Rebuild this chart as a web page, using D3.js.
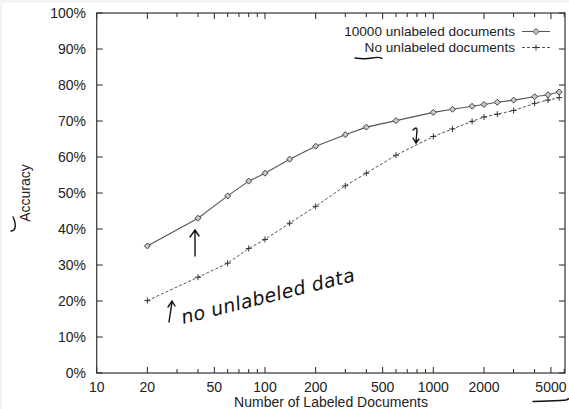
<!DOCTYPE html>
<html><head><meta charset="utf-8">
<script src="https://cdn.jsdelivr.net/npm/d3@7"></script>
<style>body{margin:0;background:#f3f3f3;}svg{display:block;}</style>
</head><body>
<svg id="c" width="569" height="409"></svg>
<script>
const labeledCounts = [20,40,60,80,100,140,200,300,400,600,1000,1300,1700,2000,2400,3000,4000,4800,5600];
const withUnlabeled = [35.3,43.0,49.2,53.3,55.5,59.4,63.0,66.2,68.3,70.1,72.4,73.25,74.1,74.6,75.2,75.8,76.75,77.3,78.05];
const noUnlabeled   = [20.1,26.6,30.5,34.6,37.1,41.6,46.3,52.0,55.5,60.5,65.7,67.8,69.9,71.1,71.9,72.9,74.9,75.8,76.5];
const seriesNames = ["10000 unlabeled documents","No unlabeled documents"];
const xTickLabels = [10,20,50,100,200,500,1000,2000,5000];
const yTickValues = [0,10,20,30,40,50,60,70,80,90,100];

const svg = d3.select("#c");
svg.append("rect").attr("x",2).attr("y",3).attr("width",567).attr("height",406).attr("fill","#fff");

const L=96.7, R=565, T=13, B=373;
const x = d3.scaleLog().domain([10,6060]).range([L,R]);
const y = d3.scaleLinear().domain([0,100]).range([B,T]);
const font = "'Liberation Sans', Arial, sans-serif";
const fs = 14;

// minor ticks
const minor = [];
for (let d=10; d<=1000; d*=10) for (let k=1;k<10;k++){ const v=d*k; if (v>=10 && v<=6060) minor.push(v); }
const g = svg.append("g");
minor.forEach(v=>{
  const major = xTickLabels.includes(v);
  const len = major ? 6 : 4;
  g.append("line").attr("x1",x(v)).attr("x2",x(v)).attr("y1",B).attr("y2",B-len).attr("stroke","#222").attr("stroke-width",1);
  g.append("line").attr("x1",x(v)).attr("x2",x(v)).attr("y1",T).attr("y2",T+len).attr("stroke","#222").attr("stroke-width",1);
});
yTickValues.forEach(v=>{
  g.append("line").attr("x1",L).attr("x2",L+6).attr("y1",y(v)).attr("y2",y(v)).attr("stroke","#222");
  g.append("line").attr("x1",R).attr("x2",R-6).attr("y1",y(v)).attr("y2",y(v)).attr("stroke","#222");
  g.append("text").attr("x",86).attr("y",y(v)).attr("dy","0.35em").attr("text-anchor","end")
   .attr("font-family",font).attr("font-size",fs).attr("fill","#222").text(v+"%");
});
xTickLabels.forEach(v=>{
  g.append("text").attr("x",x(v)).attr("y",391.5).attr("text-anchor","middle")
   .attr("font-family",font).attr("font-size",fs).attr("fill","#222").text(v);
});
g.append("rect").attr("x",L).attr("y",T).attr("width",R-L).attr("height",B-T).attr("fill","none").attr("stroke","#333").attr("stroke-width",1.2);

// axis titles
svg.append("text").attr("x",331).attr("y",407).attr("text-anchor","middle").attr("font-family",font).attr("font-size",fs).attr("fill","#222").text("Number of Labeled Documents");
svg.append("text").attr("transform","translate(30,193) rotate(-90)").attr("text-anchor","middle").attr("font-family",font).attr("font-size",fs).attr("fill","#222").text("Accuracy");

// lines
const line = d3.line().x(d=>x(d[0])).y(d=>y(d[1]));
const d1 = labeledCounts.map((c,i)=>[c,withUnlabeled[i]]);
const d2 = labeledCounts.map((c,i)=>[c,noUnlabeled[i]]);
svg.append("path").attr("d",line(d1)).attr("fill","none").attr("stroke","#555").attr("stroke-width",1.1);
svg.append("path").attr("d",line(d2)).attr("fill","none").attr("stroke","#555").attr("stroke-width",1).attr("stroke-dasharray","3,2");
const diamond = "M0,-3L3,0L0,3L-3,0Z";
svg.selectAll(".dm").data(d1).join("path").attr("transform",d=>`translate(${x(d[0])},${y(d[1])})`)
  .attr("d",diamond).attr("fill","#c8c8c8").attr("stroke","#444").attr("stroke-width",1);
const plusPath = "M-3,0H3M0,-3V3";
svg.selectAll(".pl").data(d2).join("path").attr("transform",d=>`translate(${x(d[0])},${y(d[1])})`)
  .attr("d",plusPath).attr("stroke","#333").attr("stroke-width",1);

// legend
const leg = [{y:31.5,dash:null,sym:"d"},{y:47.5,dash:"3,2",sym:"p"}];
leg.forEach((l,i)=>{
  svg.append("text").attr("x",515).attr("y",l.y).attr("dy","0.35em").attr("text-anchor","end")
    .attr("font-family",font).attr("font-size",13.6).attr("fill","#222").text(seriesNames[i]);
  svg.append("line").attr("x1",522).attr("x2",550).attr("y1",l.y).attr("y2",l.y).attr("stroke","#555").attr("stroke-dasharray",l.dash);
  if (l.sym==="d") svg.append("path").attr("transform",`translate(536,${l.y})`).attr("d",diamond).attr("fill","#c8c8c8").attr("stroke","#444");
  else svg.append("path").attr("transform",`translate(536,${l.y})`).attr("d",plusPath).attr("stroke","#333");
});

// handwritten annotations
const ink = svg.append("g").attr("fill","none").attr("stroke","#111").attr("stroke-width",1.4).attr("stroke-linecap","round");
ink.append("path").attr("d","M355,58 Q365,59.5 372,58 T382,58.5");
ink.append("path").attr("d","M533,401.5 Q550,401 560,400.5 T568,398.5");
ink.append("path").attr("d","M195,256 L195,231 M190,237 L195,230 L199,236");
ink.append("path").attr("d","M169,322 L172,302 M168,307 L172,301 L175,306");
ink.append("path").attr("d","M413,130 Q417,126 417,130 L416,142 M413,138 L416,143 L419,139");
ink.append("path").attr("d","M13,217 Q16,223 15,228 Q14,231 11,231");
svg.append("text").attr("transform","translate(183,324) rotate(-14)")
  .attr("font-family","'DejaVu Sans', sans-serif").attr("font-style","italic").attr("font-weight",300).attr("font-size",19)
  .attr("fill","#111").attr("textLength",178).text("no unlabeled data");
</script>
</body></html>
